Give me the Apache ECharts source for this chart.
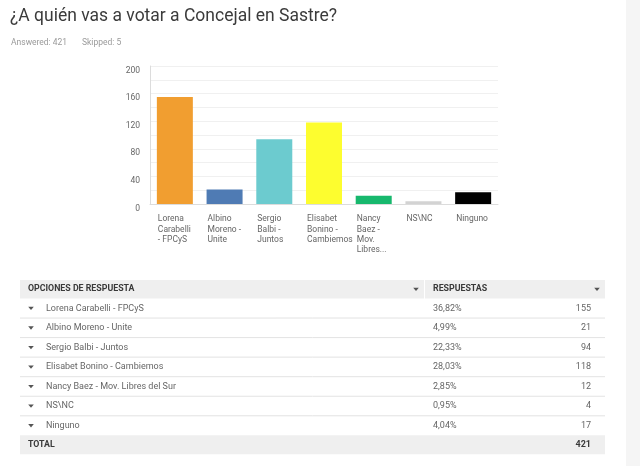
<!DOCTYPE html>
<html>
<head>
<meta charset="utf-8">
<title>Concejal en Sastre</title>
<script src="https://cdn.jsdelivr.net/npm/echarts@6/dist/echarts.min.js"></script>
<style>
	html,body{margin:0;padding:0;background:#fff;}
	#main{width:640px;height:466px;}
</style>
</head>
<body>
<div id="main"></div>
<script>
// datos de la encuesta
var titulo = "¿A quién vas a votar a Concejal en Sastre?";
var answered = 421;
var skipped = 5;
var etiquetas = ['Lorena\nCarabelli\n- FPCyS', 'Albino\nMoreno -\nUnite', 'Sergio\nBalbi -\nJuntos',
	'Elisabet\nBonino -\nCambiemos', 'Nancy\nBaez -\nMov.\nLibres...', 'NS\\NC', 'Ninguno'];
var opciones = ['Lorena Carabelli - FPCyS', 'Albino Moreno - Unite', 'Sergio Balbi - Juntos',
	'Elisabet Bonino - Cambiemos', 'Nancy Baez - Mov. Libres del Sur', 'NS\\NC', 'Ninguno'];
var respuestas = [155, 21, 94, 118, 12, 4, 17];
var porcentajes = ['36,82%', '4,99%', '22,33%', '28,03%', '2,85%', '0,95%', '4,04%'];
var total = 421;
var yTicks = [0, 40, 80, 120, 160, 200];
var colores = ['#f19e30', '#4f7bb4', '#6ccbcf', '#fdfd2f', '#17b86d', '#d3d3d3', '#000000'];

var fuente = 'Roboto';
var chart = echarts.init(document.getElementById('main'));

// tabla de respuestas con graphic
var graficos = [];
//franja gris a la derecha
graficos.push({type:'rect', shape:{x:626, y:0, width:14, height:466}, style:{fill:'#f5f5f5'}, silent:true});
graficos.push({type:'text', left:10, top:8, style:{text:titulo, fontFamily:fuente, fontSize:17.5, fill:'#3b3b3b'}});
graficos.push({type:'text', x:11, y:43, style:{text:'Answered: ' + answered, fontFamily:fuente, fontSize:8.5, fill:'#9a9a9a', verticalAlign:'middle'}});
graficos.push({type:'text', x:82, y:43, style:{text:'Skipped: ' + skipped, fontFamily:fuente, fontSize:8.5, fill:'#9a9a9a', verticalAlign:'middle'}});

var tx = 20, tw = 585, hy = 280, hh = 18.5, rh = 19.55;
var fs = 9;
function flecha(x, y){
	return {type:'polygon', shape:{points:[[x - 2.8, y - 1.5], [x + 2.8, y - 1.5], [x, y + 1.8]]}, style:{fill:'#555'}, silent:true};
}
// cabecera
graficos.push({type:'rect', shape:{x:tx, y:hy, width:404, height:hh}, style:{fill:'#efefef'}, silent:true});
graficos.push({type:'rect', shape:{x:425, y:hy, width:tx + tw - 425, height:hh}, style:{fill:'#efefef'}, silent:true});
graficos.push({type:'text', x:28, y:hy + hh / 2, style:{text:'OPCIONES DE RESPUESTA', fontFamily:fuente, fontSize:8.8,
	fontWeight:'bold', fill:'#3a3a3a', verticalAlign:'middle'}});
graficos.push({type:'text', x:433, y:hy + hh / 2, style:{text:'RESPUESTAS', fontFamily:fuente, fontSize:8.8,
	fontWeight:'bold', fill:'#3a3a3a', verticalAlign:'middle'}});
graficos.push(flecha(416, hy + hh / 2));
graficos.push(flecha(597, hy + hh / 2));

for (var i = 0; i < opciones.length; i++) {
	var y0 = hy + hh + i * rh;
	var cy = y0 + rh / 2;
	graficos.push(flecha(31, cy));
	graficos.push({type:'text', x:46, y:cy, style:{text:opciones[i], fontFamily:fuente, fontSize:fs, fill:'#666', verticalAlign:'middle'}});
	graficos.push({type:'text', x:433, y:cy, style:{text:porcentajes[i], fontFamily:fuente, fontSize:fs, fill:'#666', verticalAlign:'middle'}});
	graficos.push({type:'text', x:591, y:cy, style:{text:String(respuestas[i]), fontFamily:fuente, fontSize:fs, fill:'#666',
		align:'right', verticalAlign:'middle'}});
	if (i < opciones.length - 1) {
		graficos.push({type:'line', shape:{x1:tx, y1:y0 + rh, x2:tx + tw, y2:y0 + rh}, style:{stroke:'#e3e3e3', lineWidth:1}, silent:true});
	}
}
// fila total
var ty = hy + hh + opciones.length * rh;
graficos.push({type:'rect', shape:{x:tx, y:ty, width:tw, height:19}, style:{fill:'#efefef'}, silent:true});
graficos.push({type:'text', x:28, y:ty + 9.5, style:{text:'TOTAL', fontFamily:fuente, fontSize:8.8, fontWeight:'bold', fill:'#3a3a3a', verticalAlign:'middle'}});
graficos.push({type:'text', x:591, y:ty + 9.5, style:{text:String(total), fontFamily:fuente, fontSize:fs, fontWeight:'bold', fill:'#3a3a3a',
	align:'right', verticalAlign:'middle'}});

var option = {
	backgroundColor:'#fff',
	animation:false,
	graphic:graficos,
	grid:[
		{left:150, right:142, top:66, bottom:262},
		//grid solo para las etiquetas, corrido a la izquierda
		{left:133, right:159, top:66, bottom:262}
	],
	xAxis:[
		{
			type:'category',
			data:etiquetas,
			gridIndex:0,
			axisLine:{lineStyle:{color:'#dcdcdc'}},
			axisTick:{show:false},
			axisLabel:{show:false}
		},
		{
			type:'category',
			data:etiquetas,
			gridIndex:1,
			axisLine:{show:false},
			axisTick:{show:false},
			axisLabel:{interval:0, align:'left', verticalAlign:'top', margin:10, fontFamily:fuente, fontSize:8.5,
				lineHeight:10.3, color:'#666'}
		}
	],
	yAxis:[
		{
			type:'value',
			gridIndex:0,
			min:yTicks[0],
			max:yTicks[yTicks.length - 1],
			interval:yTicks[1] - yTicks[0],
			axisLine:{show:true, lineStyle:{color:'#dcdcdc'}},
			axisTick:{show:false},
			axisLabel:{margin:10, fontFamily:fuente, fontSize:8.5, color:'#666', verticalAlign:'top'},
			splitLine:{lineStyle:{color:'#f0f0f0'}},
			minorTick:{show:false, splitNumber:2},
			minorSplitLine:{show:true, lineStyle:{color:'#f0f0f0'}}
		},
		{
			type:'value',
			gridIndex:1,
			show:false
		}
	],
	series:[
		{
			name:'Respuestas',
			type:'bar',
			xAxisIndex:0,
			yAxisIndex:0,
			barWidth:36,
			data:respuestas.map(function(v, i){
				return {value:v, itemStyle:{color:colores[i]}};
			})
		}
	]
};
chart.setOption(option);
</script>
</body>
</html>
